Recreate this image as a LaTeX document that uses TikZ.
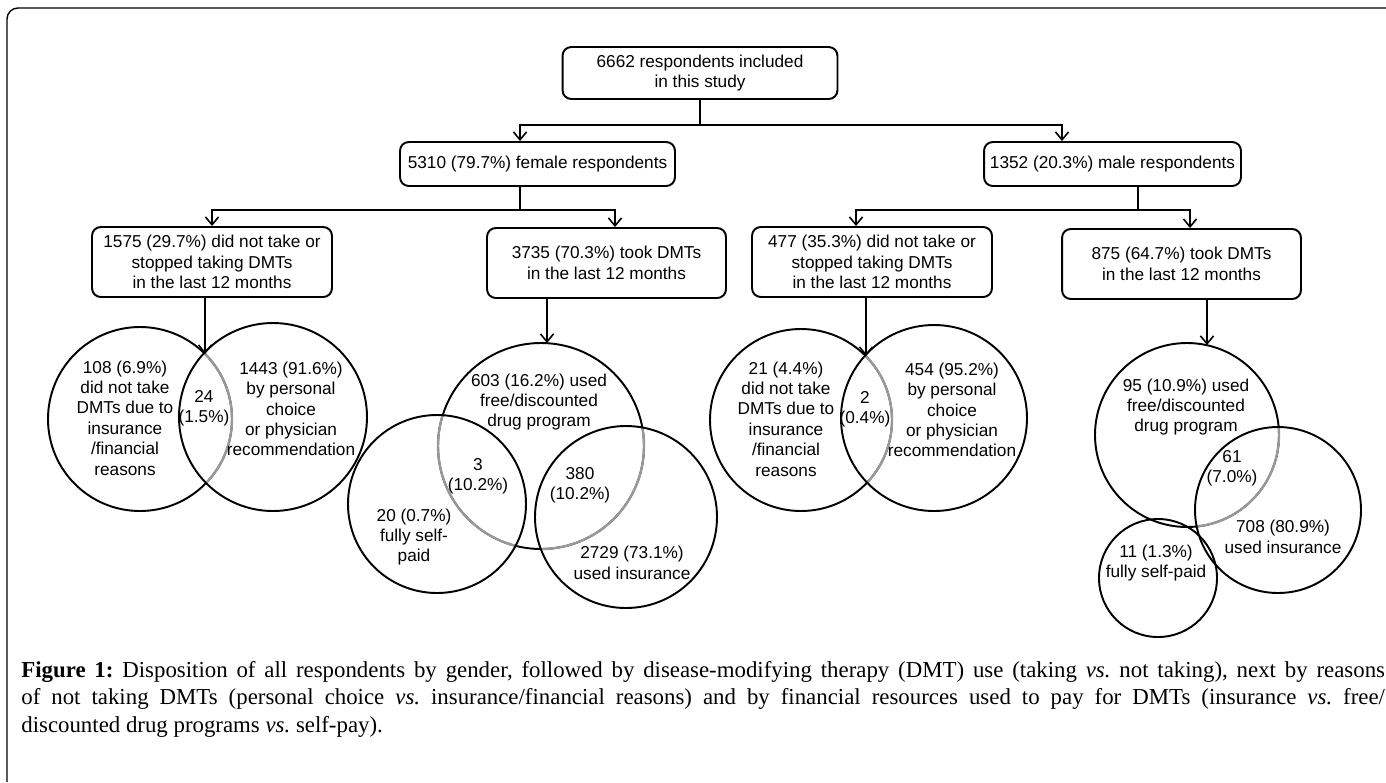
\documentclass[tikz,border=0pt]{standalone}
\usepackage{fontspec}
\setmainfont{Liberation Serif}
\newfontfamily\arialfont{Liberation Sans}
\usetikzlibrary{arrows.meta}
\newcommand{\boxfont}{\arialfont\fontsize{9.8}{11.6}\selectfont}
\newcommand{\capfont}{\fontsize{13}{15.6}\selectfont}

\begin{document}
\begin{tikzpicture}[
  x=0.02cm, y=-0.02cm,
  box/.style={draw, rounded corners=5pt, line width=1.1pt, align=center, font=\boxfont, inner sep=0pt},
  arr/.style={-{Straight Barb[length=4.5pt,width=7.5pt]}, line width=0.9pt},
  ring/.style={draw, line width=1.1pt},
  lens/.style={draw=black!40, line width=1.3pt},
  ctext/.style={align=center, font=\boxfont, inner sep=0pt}
]
  \path[use as bounding box, fill=white] (0,0) rectangle (1386,782);
  \draw[line width=0.8pt, rounded corners=0.22cm] (7,782) |- (1386,8);

  % boxes
  \node[box, minimum width=5.5cm, minimum height=1.04cm] (top) at (700,73) {6662 respondents included\\in this study};
  \node[box, minimum width=5.5cm, minimum height=0.88cm] (female) at (537.5,164) {5310 (79.7\%) female respondents};
  \node[box, minimum width=5.14cm, minimum height=0.88cm] (male) at (1112.5,164) {1352 (20.3\%) male respondents};
  \node[box, minimum width=4.8cm, minimum height=1.4cm] (b1575) at (212,262) {1575 (29.7\%) did not take or\\stopped taking DMTs\\in the last 12 months};
  \node[box, minimum width=4.78cm, minimum height=1.4cm] (b3735) at (606.5,263) {3735 (70.3\%) took DMTs\\in the last 12 months};
  \node[box, minimum width=4.8cm, minimum height=1.4cm] (b477) at (872,262) {477 (35.3\%) did not take or\\stopped taking DMTs\\in the last 12 months};
  \node[box, minimum width=4.78cm, minimum height=1.4cm] (b875) at (1181.5,264) {875 (64.7\%) took DMTs\\in the last 12 months};

  % tree connectors
  \coordinate (sTop) at (700,125);
  \draw[arr] (top.south) -- (sTop) -| ([xshift=-0.35cm]female.north);
  \draw[arr] (sTop) -| ([xshift=-1.01cm]male.north);
  \coordinate (sFem) at (520,210);
  \draw[arr] ([xshift=-0.35cm]female.south) -- (sFem) -| (b1575.north);
  \draw[arr] (sFem) -| ([xshift=0.17cm]b3735.north);
  \coordinate (sMale) at (1138,210);
  \draw[arr] ([xshift=0.51cm]male.south) -- (sMale) -| ([xshift=-0.32cm]b477.north);
  \draw[arr] (sMale) -| ([xshift=0.17cm]b875.north);

  % female, not taking
  \coordinate (cA) at (140,419);
  \coordinate (cB) at (273,417);
  \draw[ring] (cA) circle[radius=92];
  \begin{scope}
    \clip (cB) circle[radius=94];
    \draw[lens] (cA) circle[radius=92];
  \end{scope}
  \draw[ring] (cB) circle[radius=94];
  \coordinate (abTop) at (205,354);
  \draw[arr] (b1575.south -| abTop) -- (abTop);
  \node[ctext] (tA) at (125,418) {108 (6.9\%)\\did not take\\DMTs due to\\insurance\\/financial\\reasons};
  \node[ctext] (tAB) at (204,408) {24\\(1.5\%)};
  \node[ctext] (tB) at (291,409) {1443 (91.6\%)\\by personal\\choice\\or physician\\recommendation};

  % female, taking
  \coordinate (cC) at (541,446);
  \coordinate (cD) at (437,504);
  \coordinate (cE) at (626,517);
  \draw[ring] (cC) circle[radius=103];
  \begin{scope}
    \clip (cD) circle[radius=89];
    \draw[lens] (cC) circle[radius=103];
  \end{scope}
  \begin{scope}
    \clip (cE) circle[radius=91];
    \draw[lens] (cC) circle[radius=103];
  \end{scope}
  \draw[ring] (cD) circle[radius=89];
  \draw[ring] (cE) circle[radius=91];
  \coordinate (cTop) at (547,343);
  \draw[arr] (b3735.south -| cTop) -- (cTop);
  \node[ctext] (tC) at (539,402) {603 (16.2\%) used\\free/discounted\\drug program};
  \node[ctext] (tCD) at (478,476) {3\\(10.2\%)};
  \node[ctext] (tCE) at (580,485) {380\\(10.2\%)};
  \node[ctext] (tD) at (414,537) {20 (0.7\%)\\fully self-\\paid};
  \node[ctext] (tE) at (632,563) {2729 (73.1\%)\\used insurance};

  % male, not taking
  \coordinate (cF) at (801,420);
  \coordinate (cG) at (934,418);
  \draw[ring] (cF) circle[radius=91];
  \begin{scope}
    \clip (cG) circle[radius=93];
    \draw[lens] (cF) circle[radius=91];
  \end{scope}
  \draw[ring] (cG) circle[radius=93];
  \coordinate (fgTop) at (866,356);
  \draw[arr] (b477.south -| fgTop) -- (fgTop);
  \node[ctext] (tF) at (786,419) {21 (4.4\%)\\did not take\\DMTs due to\\insurance\\/financial\\reasons};
  \node[ctext] (tFG) at (865,409) {2\\(0.4\%)};
  \node[ctext] (tG) at (952,410) {454 (95.2\%)\\by personal\\choice\\or physician\\recommendation};

  % male, taking
  \coordinate (cH) at (1187,435);
  \coordinate (cI) at (1278,510);
  \coordinate (cJ) at (1158,578);
  \draw[ring] (cH) circle[radius=92];
  \begin{scope}
    \clip (cI) circle[radius=83];
    \draw[lens] (cH) circle[radius=92];
  \end{scope}
  \draw[ring] (cI) circle[radius=83];
  \draw[ring] (cJ) circle[radius=59];
  \coordinate (hTop) at (1207,345);
  \draw[arr] (b875.south -| hTop) -- (hTop);
  \node[ctext] (tH) at (1186,407) {95 (10.9\%) used\\free/discounted\\drug program};
  \node[ctext] (tHI) at (1232,468) {61\\(7.0\%)};
  \node[ctext] (tI) at (1283,537) {708 (80.9\%)\\used insurance};
  \node[ctext] (tJ) at (1156,563) {11 (1.3\%)\\fully self-paid};

  % caption
  \node[anchor=north west, text width=27.28cm, align=justify, font=\capfont, inner sep=0pt] (caption) at (21,661)
    {\frenchspacing\tolerance=9999\hbadness=10000
     \textbf{Figure 1:} Disposition of all respondents by gender, followed by disease-modifying therapy (DMT) use (taking \textit{vs.} not taking), next by reasons\linebreak
     of not taking DMTs (personal choice \textit{vs.} insurance/financial reasons) and by financial resources used to pay for DMTs (insurance \textit{vs.} free/\linebreak
     discounted drug programs \textit{vs.} self-pay).};
\end{tikzpicture}
\end{document}
